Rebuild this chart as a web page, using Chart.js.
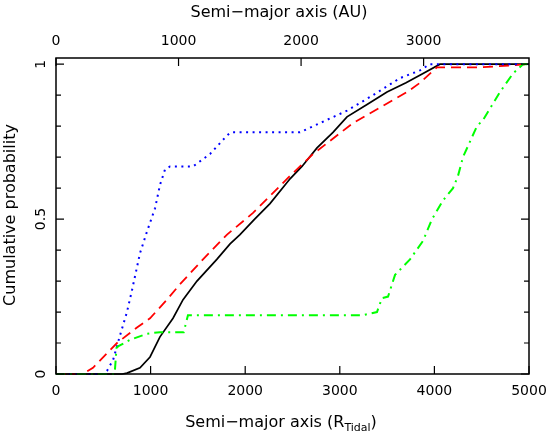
<!DOCTYPE html>
<html>
<head>
<meta charset="utf-8">
<script src="https://cdn.jsdelivr.net/npm/chart.js@4/dist/chart.umd.min.js"></script>
<style>
  html, body { margin: 0; padding: 0; background: #fff; }
  canvas { display: block; }
</style>
</head>
<body>
<canvas id="myChart" width="551" height="440"></canvas>
<script>
// semi-major axis in R_Tidal, cumulative probability
const blackA = [0, 700, 750, 888, 994, 1099, 1237, 1343, 1490, 1700, 1840, 1945, 2100, 2262, 2474, 2600, 2759, 2928, 3076, 3288, 3499, 3700, 3880, 4059, 5000];
const blackP = [0, 0, 0.003, 0.02, 0.055, 0.12, 0.18, 0.24, 0.30, 0.37, 0.42, 0.45, 0.50, 0.55, 0.63, 0.67, 0.73, 0.78, 0.83, 0.87, 0.91, 0.94, 0.97, 1.0, 1.0];

const redA = [0, 285, 391, 645, 856, 994, 1173, 1311, 1554, 1808, 2083, 2442, 2717, 2865, 3140, 3425, 3710, 3848, 4027, 4500, 5000];
const redP = [0, 0, 0.02, 0.10, 0.15, 0.18, 0.24, 0.29, 0.37, 0.45, 0.52, 0.63, 0.71, 0.745, 0.81, 0.86, 0.91, 0.94, 0.99, 0.99, 1.0];

const blueA = [0, 500, 539, 603, 677, 750, 803, 888, 962, 1047, 1099, 1152, 1205, 1448, 1628, 1808, 1850, 2579, 2791, 3076, 3351, 3636, 3848, 3950, 5000];
const blueP = [0, 0, 0.01, 0.045, 0.125, 0.2, 0.27, 0.39, 0.46, 0.535, 0.61, 0.66, 0.67, 0.67, 0.71, 0.77, 0.78, 0.78, 0.81, 0.85, 0.90, 0.955, 0.98, 1.0, 1.0];

const greenA = [0, 620, 640, 660, 782, 962, 1099, 1350, 1395, 3245, 3319, 3393, 3446, 3510, 3584, 3742, 3880, 3975, 4091, 4197, 4250, 4302, 4450, 4514, 4693, 4831, 4937, 5000];
const greenP = [0, 0, 0.085, 0.09, 0.11, 0.13, 0.135, 0.135, 0.19, 0.19, 0.195, 0.20, 0.245, 0.25, 0.32, 0.37, 0.43, 0.50, 0.56, 0.60, 0.64, 0.70, 0.80, 0.82, 0.91, 0.97, 1.0, 1.0];

const xMax = 5000;
const auPerTidal = 0.772;          // top axis: AU
const xTicks = [0, 1000, 2000, 3000, 4000, 5000];
const auTicks = [0, 1000, 2000, 3000];
const yTicks = [0, 0.1, 0.2, 0.3, 0.4, 0.5, 0.6, 0.7, 0.8, 0.9, 1];
const yLabelled = [0, 0.5, 1];
const yLabelText = ['0', '0.5', '1'];

function pts(a, p) {
  return a.map(function(v, i) { return { x: v, y: p[i] }; });
}
function fixTicks(list) {
  return function(s) { s.ticks = list.map(function(v) { return { value: v }; }); };
}
function fitX(h) {
  return function(s) { s.height = h; s.paddingLeft = 0; s.paddingRight = 0; };
}

const FONT = "'DejaVu Sans', sans-serif";

const frameAndLabels = {
  id: 'frameAndLabels',
  afterDraw(chart) {
    const ctx = chart.ctx, a = chart.chartArea;
    const x = chart.scales.x, xt = chart.scales.xTop, y = chart.scales.y;
    ctx.save();
    ctx.strokeStyle = '#000';
    ctx.lineWidth = 1.5;
    ctx.strokeRect(a.left, a.top, a.right - a.left, a.bottom - a.top);

    ctx.lineWidth = 1.2;
    ctx.beginPath();
    x.ticks.forEach(function(t) {
      const px = x.getPixelForValue(t.value);
      ctx.moveTo(px, a.bottom); ctx.lineTo(px, a.bottom - 8);
    });
    xt.ticks.forEach(function(t) {
      const px = xt.getPixelForValue(t.value);
      ctx.moveTo(px, a.top); ctx.lineTo(px, a.top + 8);
    });
    y.ticks.forEach(function(t) {
      const py = y.getPixelForValue(t.value);
      const major = Math.abs(t.value * 2 - Math.round(t.value * 2)) < 1e-6;
      const len = major ? 8 : 5;
      ctx.moveTo(a.left, py); ctx.lineTo(a.left + len, py);
      ctx.moveTo(a.right, py); ctx.lineTo(a.right - len, py);
    });
    ctx.stroke();

    ctx.fillStyle = '#000';
    // y tick labels, rotated
    ctx.font = '14px ' + FONT;
    ctx.textAlign = 'center';
    ctx.textBaseline = 'middle';
    yLabelled.forEach(function(v, i) {
      const py = y.getPixelForValue(v);
      ctx.save();
      ctx.translate(41, py);
      ctx.rotate(-Math.PI / 2);
      ctx.fillText(yLabelText[i], 0, 0);
      ctx.restore();
    });

    // axis titles
    ctx.font = '16px ' + FONT;
    ctx.fillText('Semi\u2212major axis (AU)', 279, 13);

    ctx.save();
    ctx.translate(11, 215);
    ctx.rotate(-Math.PI / 2);
    ctx.fillText('Cumulative probability', 0, 0);
    ctx.restore();

    const main = 'Semi\u2212major axis (R', sub = 'Tidal', close = ')';
    ctx.font = '16px ' + FONT;
    const w1 = ctx.measureText(main).width, w3 = ctx.measureText(close).width;
    ctx.font = '11px ' + FONT;
    const w2 = ctx.measureText(sub).width;
    let sx = 281 - (w1 + w2 + w3) / 2;
    ctx.textAlign = 'left';
    ctx.font = '16px ' + FONT;
    ctx.fillText(main, sx, 423);
    ctx.font = '11px ' + FONT;
    ctx.fillText(sub, sx + w1, 428);
    ctx.font = '16px ' + FONT;
    ctx.fillText(close, sx + w1 + w2, 423);
    ctx.restore();
  }
};

const ctx = document.getElementById('myChart').getContext('2d');
const config = {
  type: 'line',
  data: {
    datasets: [{
      label: 'black',
      data: pts(blackA, blackP),
      borderColor: '#000000',
      borderWidth: 1.7,
      order: 4
    }, {
      label: 'red',
      data: pts(redA, redP),
      borderColor: '#ff0000',
      borderWidth: 1.8,
      borderDash: [10, 6],
      order: 3
    }, {
      label: 'blue',
      data: pts(blueA, blueP),
      borderColor: '#0000ff',
      borderWidth: 2,
      borderDash: [2, 4.5],
      order: 2
    }, {
      label: 'green',
      data: pts(greenA, greenP),
      borderColor: '#00ff00',
      borderWidth: 2,
      borderDash: [9, 5, 2, 5],
      order: 1
    }]
  },
  options: {
    responsive: false,
    animation: false,
    devicePixelRatio: 1,
    clip: 3,
    layout: { padding: { left: 0, right: 22, top: 0, bottom: 0 } },
    elements: { point: { radius: 0 }, line: { tension: 0, fill: false } },
    plugins: { legend: { display: false }, tooltip: { enabled: false } },
    scales: {
      x: {
        type: 'linear', position: 'bottom', min: 0, max: xMax,
        grid: { display: false, drawTicks: false },
        border: { display: false },
        afterBuildTicks: fixTicks(xTicks),
        ticks: { padding: 9, color: '#000', font: { family: FONT, size: 14 }, maxRotation: 0, autoSkip: false,
                 callback: function(v) { return String(v); } },
        afterFit: fitX(66)
      },
      xTop: {
        type: 'linear', position: 'top', min: 0, max: xMax * auPerTidal,
        grid: { display: false, drawTicks: false },
        border: { display: false },
        afterBuildTicks: fixTicks(auTicks),
        ticks: { padding: 8, color: '#000', font: { family: FONT, size: 14 }, maxRotation: 0, autoSkip: false,
                 callback: function(v) { return String(v); } },
        afterFit: fitX(58)
      },
      y: {
        type: 'linear', position: 'left', min: 0, max: 1.02,
        grid: { display: false, drawTicks: false },
        border: { display: false },
        afterBuildTicks: fixTicks(yTicks),
        ticks: { display: false },
        afterFit: function(s) { s.width = 56; s.paddingTop = 0; s.paddingBottom = 0; }
      }
    }
  },
  plugins: [frameAndLabels]
};

const chart = new Chart(ctx, config);
</script>
</body>
</html>
